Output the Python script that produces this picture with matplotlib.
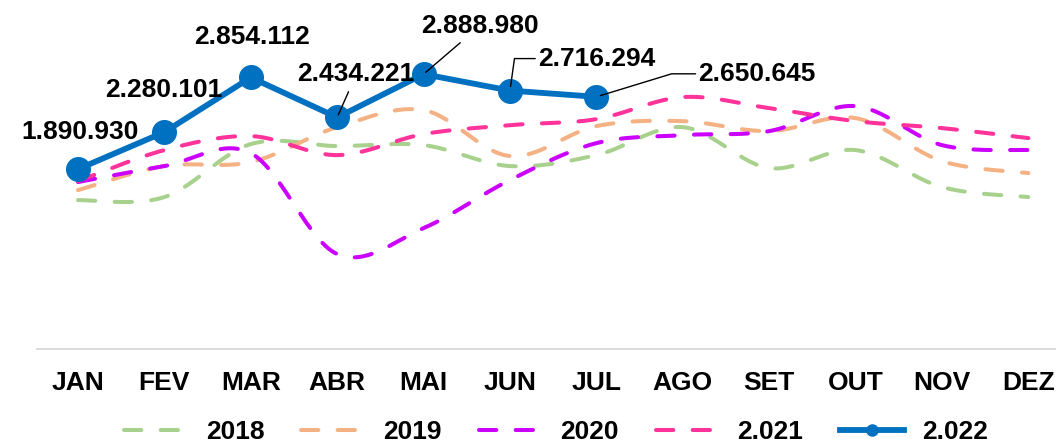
import numpy as np
import matplotlib
matplotlib.use("Agg")
import matplotlib.pyplot as plt
from matplotlib.lines import Line2D

plt.rcParams['font.family'] = ['Liberation Sans', 'DejaVu Sans']

months = ['JAN', 'FEV', 'MAR', 'ABR', 'MAI', 'JUN', 'JUL', 'AGO', 'SET', 'OUT', 'NOV', 'DEZ']

# values (no y axis shown, scale from the 2022 labels)
v2018 = [1565000, 1597000, 2154000, 2133000, 2143000, 1923000, 2038000, 2332000, 1902000, 2091000, 1702000, 1597000]
v2019 = [1670000, 1923000, 1965000, 2332000, 2511000, 2028000, 2343000, 2395000, 2290000, 2427000, 1975000, 1849000]
v2020 = [1755000, 1923000, 2059000, 998000, 1271000, 1776000, 2164000, 2248000, 2290000, 2553000, 2143000, 2091000]
v2021 = [1765000, 2091000, 2238000, 2038000, 2259000, 2353000, 2416000, 2648000, 2532000, 2395000, 2322000, 2217000]
v2022 = [1890930, 2280101, 2854112, 2434221, 2888980, 2716294, 2650645]

series_names = ['2018', '2019', '2020', '2.021', '2.022']
colors = ['#A9D18E', '#F4B183', '#CC00FF', '#FF3399', '#0070C0']


def fmt(v):
    return f'{v:,}'.replace(',', '.')


def smooth(y, n=30):
    # catmull-rom curve through the points, like the office "smoothed line"
    y = np.asarray(y, dtype=float)
    x = np.arange(len(y), dtype=float)
    p = np.column_stack([x, y])
    p = np.vstack([p[0], p, p[-1]])
    out = []
    for i in range(1, len(p) - 2):
        p0, p1, p2, p3 = p[i - 1], p[i], p[i + 1], p[i + 2]
        t = np.linspace(0, 1, n, endpoint=False)[:, None]
        c = 0.5 * ((2 * p1) + (-p0 + p2) * t + (2 * p0 - 5 * p1 + 4 * p2 - p3) * t ** 2
                   + (-p0 + 3 * p1 - 3 * p2 + p3) * t ** 3)
        out.append(c)
    out.append(p[-2][None, :])
    c = np.vstack(out)
    return c[:, 0], c[:, 1]


fig = plt.figure(figsize=(10.56, 4.45), dpi=100)
ax = fig.add_axes([0.035, 0.2157, 0.965, 0.7483])

dash_kw = dict(lw=2.9, dashes=(4.3, 4.8), dash_capstyle='round')
for vals, col in zip([v2018, v2019, v2020, v2021], colors[:4]):
    xs, ys = smooth(vals)
    ax.plot(xs, ys, color=col, **dash_kw)

x22 = np.arange(len(v2022))
ax.plot(x22, v2022, color=colors[4], lw=4.2, marker='o', markersize=17, zorder=5)

# data labels (offsets in pixels from the point)
lab_kw = dict(fontsize=19, fontweight='bold', color='black', textcoords='offset pixels', zorder=6)
ax.annotate(fmt(v2022[0]), (0, v2022[0]), xytext=(2, 37), ha='center', va='center', **lab_kw)
ax.annotate(fmt(v2022[1]), (1, v2022[1]), xytext=(-1, 42), ha='center', va='center', **lab_kw)
ax.annotate(fmt(v2022[2]), (2, v2022[2]), xytext=(1, 40), ha='center', va='center', **lab_kw)
ax.annotate(fmt(v2022[3]), (3, v2022[3]), xytext=(19, 43), ha='center', va='center',
            arrowprops=dict(arrowstyle='-', color='black', lw=1, shrinkB=2), **lab_kw)
ax.annotate(fmt(v2022[4]), (4, v2022[4]), xytext=(56, 48), ha='center', va='center',
            arrowprops=dict(arrowstyle='-', color='black', lw=1, shrinkB=2), **lab_kw)
ax.annotate(fmt(v2022[5]), (5, v2022[5]), xytext=(28, 32), ha='left', va='center',
            arrowprops=dict(arrowstyle='-', color='black', lw=1, shrinkB=3, shrinkA=0,
                            connectionstyle='angle,angleA=0,angleB=82,rad=0'), **lab_kw)
ax.annotate(fmt(v2022[6]), (6, v2022[6]), xytext=(102, 23), ha='left', va='center',
            arrowprops=dict(arrowstyle='-', color='black', lw=1, shrinkB=3, shrinkA=0,
                            connectionstyle='angle,angleA=0,angleB=17,rad=0'), **lab_kw)

ax.set_xlim(-0.475, 11.32)
ax.set_ylim(0, 3500000)
ax.set_xticks(range(len(months)))
ax.set_xticklabels(months, fontsize=19, fontweight='bold')
ax.tick_params(axis='x', length=0, pad=16)
ax.set_yticks([])
for s in ['top', 'right', 'left']:
    ax.spines[s].set_visible(False)
ax.spines['bottom'].set_color('#D9D9D9')
ax.spines['bottom'].set_linewidth(1.3)

handles = [Line2D([], [], color=c, **dash_kw) for c in colors[:4]]
handles.append(Line2D([], [], color=colors[4], lw=4.2, marker='o', markersize=8))
leg = fig.legend(handles, series_names, loc='center', bbox_to_anchor=(0.5265, 0.029), ncol=5,
                 frameon=False, handlelength=2.4, handletextpad=0.7, columnspacing=1.4,
                 prop=dict(size=19, weight='bold'))

fig.savefig('out.png', dpi=100)
